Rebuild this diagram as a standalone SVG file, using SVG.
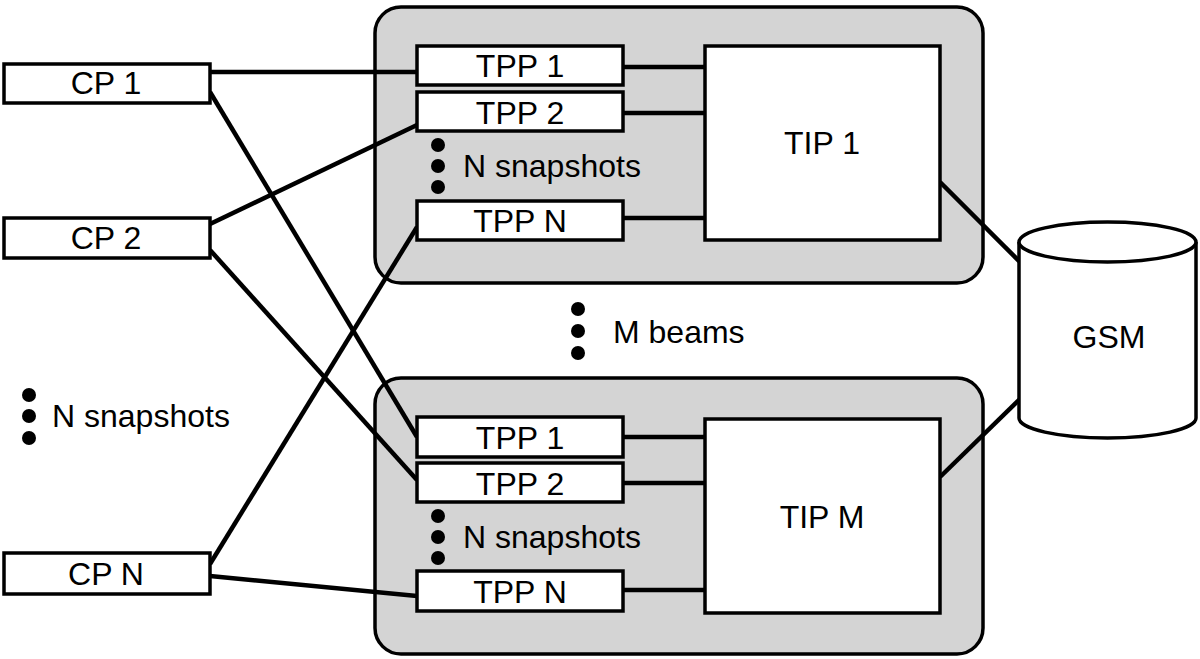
<svg xmlns="http://www.w3.org/2000/svg" width="1200" height="659" viewBox="0 0 1200 659">
<style>
.box{fill:#fff;stroke:#000;stroke-width:3.5}
.grp{fill:#d4d4d4;stroke:#000;stroke-width:3.5}
.t{font-family:"Liberation Sans",Arial,sans-serif;font-size:32px;fill:#000}
.c{text-anchor:middle}
.ln{stroke:#000;stroke-width:4.5;fill:none}
.dot{fill:#000}
</style>
<rect width="1200" height="659" fill="#fff"/>
<g id="beam1">
<rect class="grp" x="375" y="7" width="608" height="276" rx="26"/>
</g>
<g id="beamM">
<rect class="grp" x="375" y="378" width="608" height="276" rx="26"/>
</g>
<g id="connectors">
<line class="ln" x1="210" y1="72" x2="417" y2="72"/>
<line class="ln" x1="210" y1="92" x2="417" y2="437"/>
<line class="ln" x1="210" y1="224" x2="417" y2="125"/>
<line class="ln" x1="210" y1="250" x2="417" y2="480"/>
<line class="ln" x1="210" y1="564" x2="417" y2="227"/>
<line class="ln" x1="210" y1="576" x2="417" y2="596"/>
<line class="ln" x1="623" y1="67" x2="705" y2="67"/>
<line class="ln" x1="623" y1="113" x2="705" y2="113"/>
<line class="ln" x1="623" y1="218" x2="705" y2="218"/>
<line class="ln" x1="623" y1="437" x2="705" y2="437"/>
<line class="ln" x1="623" y1="483" x2="705" y2="483"/>
<line class="ln" x1="623" y1="590" x2="705" y2="590"/>
<line class="ln" x1="940" y1="182" x2="1020" y2="262"/>
<line class="ln" x1="940" y1="477" x2="1020" y2="399"/>
</g>
<g id="cp1"><rect class="box" x="4" y="64" width="206" height="39"/><text class="t c" x="106" y="94">CP 1</text></g>
<g id="cp2"><rect class="box" x="4" y="218" width="206" height="40"/><text class="t c" x="106" y="249">CP 2</text></g>
<g id="cpN"><rect class="box" x="4" y="553" width="206" height="41"/><text class="t c" x="106" y="585">CP N</text></g>
<g id="tpp1a"><rect class="box" x="417" y="46" width="206" height="39"/><text class="t c" x="520" y="77">TPP 1</text></g>
<g id="tpp2a"><rect class="box" x="417" y="92" width="206" height="39"/><text class="t c" x="520" y="124">TPP 2</text></g>
<g id="tppNa"><rect class="box" x="417" y="201" width="206" height="39"/><text class="t c" x="520" y="232">TPP N</text></g>
<g id="tip1"><rect class="box" x="705" y="46" width="235" height="194"/><text class="t c" x="822" y="154">TIP 1</text></g>
<g id="snapA"><circle class="dot" cx="438" cy="145" r="7"/><circle class="dot" cx="438" cy="166" r="7"/><circle class="dot" cx="438" cy="187" r="7"/><text class="t" x="463" y="177">N snapshots</text></g>
<g id="tpp1b"><rect class="box" x="417" y="417" width="206" height="40"/><text class="t c" x="520" y="449">TPP 1</text></g>
<g id="tpp2b"><rect class="box" x="417" y="463" width="206" height="39"/><text class="t c" x="520" y="495">TPP 2</text></g>
<g id="tppNb"><rect class="box" x="417" y="571" width="206" height="40"/><text class="t c" x="520" y="603">TPP N</text></g>
<g id="tipM"><rect class="box" x="705" y="419" width="235" height="194"/><text class="t c" x="822" y="528">TIP M</text></g>
<g id="snapB"><circle class="dot" cx="438" cy="516" r="7"/><circle class="dot" cx="438" cy="537" r="7"/><circle class="dot" cx="438" cy="558" r="7"/><text class="t" x="463" y="548">N snapshots</text></g>
<g id="mbeams"><circle class="dot" cx="578" cy="309" r="7"/><circle class="dot" cx="578" cy="331" r="7"/><circle class="dot" cx="578" cy="353" r="7"/><text class="t" x="613" y="343">M beams</text></g>
<g id="snapL"><circle class="dot" cx="29" cy="395" r="7"/><circle class="dot" cx="29" cy="416" r="7"/><circle class="dot" cx="29" cy="438" r="7"/><text class="t" x="52" y="427">N snapshots</text></g>
<g id="gsm">
<path class="box" d="M1019,242 L1019,418 A88.5,20 0 0 0 1196,418 L1196,242 A88.5,20 0 0 0 1019,242 Z"/>
<path class="box" d="M1019,242 A88.5,20 0 0 0 1196,242" fill="none"/>
<text class="t c" x="1109" y="348">GSM</text>
</g>
</svg>
